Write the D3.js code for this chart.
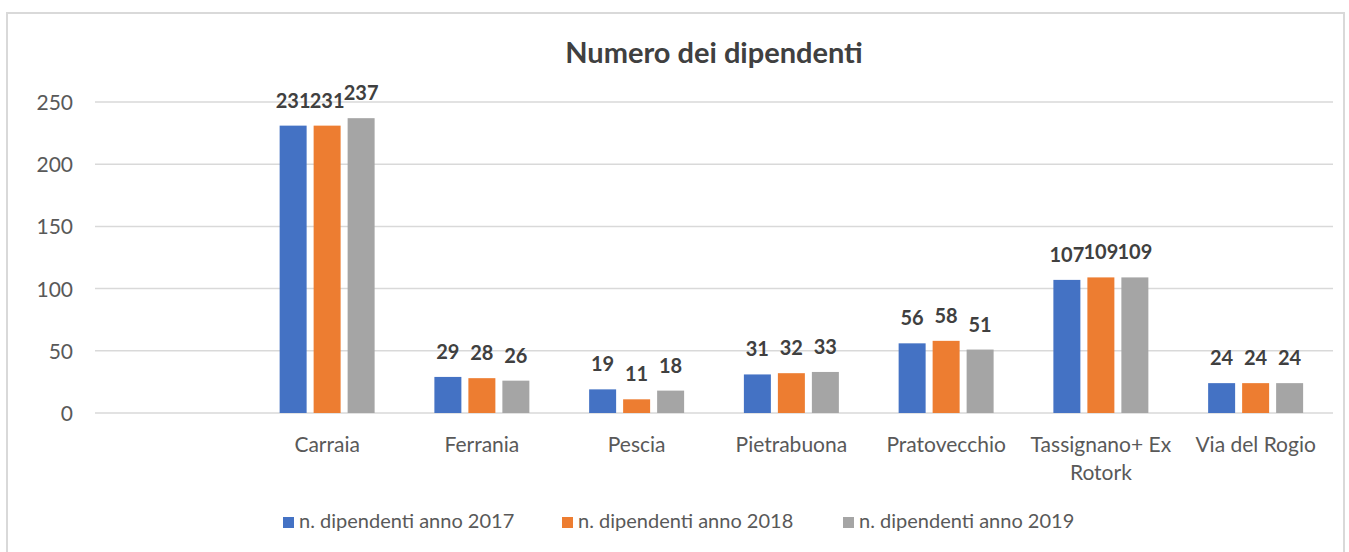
<!DOCTYPE html>
<html>
<head>
<meta charset="utf-8">
<script src="https://cdn.jsdelivr.net/npm/d3@7"></script>
<style>
  body { margin: 0; background: #fff; }
  svg { display: block; font-family: Lato, "Open Sans", sans-serif; }
</style>
</head>
<body>
<script>
// data
var categories = ["", "Carraia", "Ferrania", "Pescia", "Pietrabuona", "Pratovecchio", "Tassignano+ Ex Rotork", "Via del Rogio"];
var seriesNames = ["n. dipendenti anno 2017", "n. dipendenti anno 2018", "n. dipendenti anno 2019"];
var v2017 = [null, 231, 29, 19, 31, 56, 107, 24];
var v2018 = [null, 231, 28, 11, 32, 58, 109, 24];
var v2019 = [null, 237, 26, 18, 33, 51, 109, 24];
var yTicks = [0, 50, 100, 150, 200, 250];
var colors = ["#4472c4", "#ed7d31", "#a5a5a5"];

var width = 1349, height = 552;
var plot = {left: 95, right: 1333, top: 102, bottom: 413};

var svg = d3.select("body").append("svg")
    .attr("width", width)
    .attr("height", height)

// chart frame
svg.append("rect")
    .attr("x", 7).attr("y", 13)
    .attr("width", 1337).attr("height", 560)
    .attr("fill", "#fff")
    .attr("stroke", "#d9d9d9")
    .attr("stroke-width", 2)

var x = d3.scaleBand()
    .domain(categories)
    .range([plot.left, plot.right])
    .padding(0)

var xs = d3.scaleBand()
    .domain(d3.range(3))
    .range([0, x.bandwidth()])
    .paddingInner(0.206)
    .paddingOuter(0.879)

var y = d3.scaleLinear()
    .domain([0, 250])
    .range([plot.bottom, plot.top])

// gridlines
svg.append("g").selectAll("line")
    .data(yTicks)
    .enter().append("line")
    .attr("x1", plot.left).attr("x2", plot.right)
    .attr("y1", d => y(d)).attr("y2", d => y(d))
    .attr("stroke", "#d9d9d9")
    .attr("stroke-width", 1.5)

// y axis labels (no line)
var yAxis = svg.append("g")
    .attr("transform", "translate(" + (plot.left - 22) + ",0)")
    .call(d3.axisLeft(y).tickValues(yTicks).tickSize(0).tickPadding(0))
yAxis.select(".domain").remove()
yAxis.selectAll("text")
    .attr("fill", "#595959")
    .attr("dy", "0.36em")
    .style("font-size", "21px")
    .style("font-family", "Lato, sans-serif")

var series = [v2017, v2018, v2019]

var rows = []
categories.forEach((c, i) => {
    series.forEach((s, j) => {
        if (s[i] !== null) rows.push({cat: c, k: j, v: s[i]})
    })
})

var bars = svg.append("g")
bars.selectAll("rect")
    .data(rows)
    .enter().append("rect")
    .attr("x", d => x(d.cat) + xs(d.k))
    .attr("width", xs.bandwidth())
    .attr("y", d => y(d.v))
    .attr("height", d => y(0) - y(d.v))
    .attr("fill", d => colors[d.k])

// value labels
bars.selectAll("text")
    .data(rows)
    .enter().append("text")
    .attr("x", d => x(d.cat) + xs(d.k) + xs.bandwidth() / 2)
    .attr("y", d => y(d.v) - 18)
    .attr("text-anchor", "middle")
    .attr("fill", "#404040")
    .style("font-size", "20px")
    .style("font-weight", "bold")
    .text(d => d.v)

// category labels
var catG = svg.append("g")
categories.forEach(c => {
    if (!c) return
    var lines = c === "Tassignano+ Ex Rotork" ? ["Tassignano+ Ex", "Rotork"] : [c]
    var t = catG.append("text")
        .attr("x", x(c) + x.bandwidth() / 2)
        .attr("y", 452)
        .attr("text-anchor", "middle")
        .attr("fill", "#595959")
        .style("font-size", "21px")
    lines.forEach((l, i) => {
        t.append("tspan")
            .attr("x", x(c) + x.bandwidth() / 2)
            .attr("dy", i === 0 ? 0 : 28)
            .text(l)
    })
})

// title
svg.append("text")
    .attr("x", 714).attr("y", 63)
    .attr("text-anchor", "middle")
    .attr("fill", "#404040")
    .style("font-size", "29px")
    .style("font-weight", "bold")
    .text("Numero dei dipendenti")

// legend
var legendX = [283, 562, 843]
var lg = svg.append("g").selectAll("g")
    .data(seriesNames)
    .enter().append("g")
    .attr("transform", (d, i) => "translate(" + legendX[i] + ",517)")
lg.append("rect")
    .attr("width", 11).attr("height", 11)
    .attr("fill", (d, i) => colors[i])
lg.append("text")
    .attr("x", 16).attr("y", 11)
    .attr("fill", "#595959")
    .style("font-size", "20px")
    .text(d => d)
</script>
</body>
</html>
